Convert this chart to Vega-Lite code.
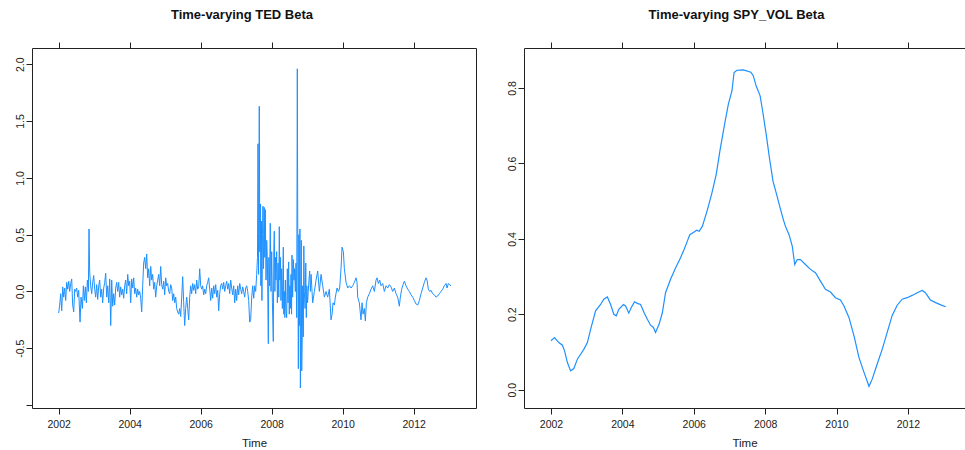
{
 "$schema": "https://vega.github.io/schema/vega-lite/v6.json",
 "padding": {"left": 14, "top": 8, "right": 0, "bottom": 0},
 "bounds": "flush",
 "spacing": 48,
 "background": "white",
 "datasets": {
  "ted": [
{"t":2002.000,"v":-0.19},{"t":2002.028,"v":-0.12},{"t":2002.056,"v":-0.02},{"t":2002.085,"v":-0.17},{"t":2002.113,"v":0.04},{"t":2002.141,"v":-0.05},{"t":2002.169,"v":0.03},{"t":2002.197,"v":-0.08},{"t":2002.225,"v":0.08},{"t":2002.254,"v":0.02},{"t":2002.282,"v":0.09},{"t":2002.310,"v":0.0},{"t":2002.338,"v":0.07},{"t":2002.366,"v":0.11},{"t":2002.394,"v":-0.12},{"t":2002.423,"v":-0.18},{"t":2002.451,"v":0.02},{"t":2002.479,"v":0.0},{"t":2002.507,"v":0.03},{"t":2002.535,"v":-0.05},{"t":2002.563,"v":0.01},{"t":2002.601,"v":-0.27},{"t":2002.629,"v":-0.05},{"t":2002.667,"v":-0.15},{"t":2002.695,"v":0.05},{"t":2002.723,"v":-0.08},{"t":2002.751,"v":0.04},{"t":2002.779,"v":-0.1},{"t":2002.808,"v":0.1},{"t":2002.836,"v":0.0},{"t":2002.854,"v":0.55},{"t":2002.873,"v":0.17},{"t":2002.901,"v":0.05},{"t":2002.930,"v":-0.02},{"t":2002.958,"v":0.08},{"t":2002.986,"v":0.14},
{"t":2003.014,"v":0.02},{"t":2003.042,"v":-0.05},{"t":2003.070,"v":0.06},{"t":2003.099,"v":-0.07},{"t":2003.127,"v":0.05},{"t":2003.155,"v":0.1},{"t":2003.183,"v":-0.05},{"t":2003.211,"v":0.02},{"t":2003.239,"v":-0.1},{"t":2003.268,"v":0.03},{"t":2003.296,"v":0.08},{"t":2003.324,"v":0.16},{"t":2003.352,"v":-0.05},{"t":2003.380,"v":0.05},{"t":2003.408,"v":-0.1},{"t":2003.437,"v":0.11},{"t":2003.465,"v":-0.3},{"t":2003.493,"v":0.1},{"t":2003.521,"v":-0.13},{"t":2003.549,"v":-0.02},{"t":2003.577,"v":-0.12},{"t":2003.606,"v":0.03},{"t":2003.634,"v":0.08},{"t":2003.662,"v":0.0},{"t":2003.690,"v":0.08},{"t":2003.718,"v":-0.05},{"t":2003.746,"v":0.04},{"t":2003.775,"v":-0.03},{"t":2003.803,"v":0.02},{"t":2003.831,"v":-0.06},{"t":2003.859,"v":0.05},{"t":2003.887,"v":0.1},{"t":2003.915,"v":-0.02},{"t":2003.944,"v":0.15},{"t":2003.972,"v":0.05},
{"t":2004.000,"v":0.09},{"t":2004.028,"v":-0.1},{"t":2004.056,"v":0.11},{"t":2004.085,"v":0.03},{"t":2004.113,"v":0.12},{"t":2004.141,"v":-0.02},{"t":2004.169,"v":0.03},{"t":2004.197,"v":-0.05},{"t":2004.225,"v":0.02},{"t":2004.254,"v":-0.03},{"t":2004.282,"v":0.0},{"t":2004.310,"v":-0.06},{"t":2004.338,"v":-0.18},{"t":2004.366,"v":0.05},{"t":2004.394,"v":0.25},{"t":2004.423,"v":0.3},{"t":2004.451,"v":0.2},{"t":2004.479,"v":0.33},{"t":2004.507,"v":0.12},{"t":2004.535,"v":0.2},{"t":2004.563,"v":0.05},{"t":2004.592,"v":0.22},{"t":2004.620,"v":0.1},{"t":2004.648,"v":0.15},{"t":2004.676,"v":0.02},{"t":2004.704,"v":0.08},{"t":2004.732,"v":-0.05},{"t":2004.761,"v":0.05},{"t":2004.789,"v":0.1},{"t":2004.817,"v":0.15},{"t":2004.845,"v":0.05},{"t":2004.873,"v":0.22},{"t":2004.901,"v":0.06},{"t":2004.930,"v":0.02},{"t":2004.958,"v":0.09},{"t":2004.986,"v":-0.03},
{"t":2005.014,"v":0.12},{"t":2005.042,"v":0.05},{"t":2005.070,"v":0.07},{"t":2005.099,"v":0.0},{"t":2005.127,"v":-0.02},{"t":2005.155,"v":0.06},{"t":2005.183,"v":0.03},{"t":2005.211,"v":-0.08},{"t":2005.239,"v":-0.02},{"t":2005.268,"v":-0.1},{"t":2005.296,"v":-0.05},{"t":2005.324,"v":-0.15},{"t":2005.352,"v":-0.18},{"t":2005.380,"v":-0.2},{"t":2005.408,"v":-0.15},{"t":2005.437,"v":-0.22},{"t":2005.465,"v":-0.05},{"t":2005.493,"v":0.13},{"t":2005.521,"v":-0.1},{"t":2005.549,"v":-0.3},{"t":2005.577,"v":-0.15},{"t":2005.606,"v":-0.05},{"t":2005.634,"v":-0.15},{"t":2005.662,"v":-0.25},{"t":2005.690,"v":-0.05},{"t":2005.718,"v":0.05},{"t":2005.746,"v":-0.02},{"t":2005.775,"v":0.07},{"t":2005.803,"v":0.01},{"t":2005.831,"v":0.06},{"t":2005.859,"v":-0.02},{"t":2005.887,"v":0.1},{"t":2005.915,"v":0.02},{"t":2005.944,"v":0.04},{"t":2005.972,"v":0.2},
{"t":2006.000,"v":0.05},{"t":2006.028,"v":0.02},{"t":2006.056,"v":0.05},{"t":2006.085,"v":-0.03},{"t":2006.113,"v":0.02},{"t":2006.141,"v":-0.02},{"t":2006.169,"v":0.05},{"t":2006.197,"v":0.08},{"t":2006.225,"v":0.12},{"t":2006.254,"v":0.02},{"t":2006.282,"v":-0.08},{"t":2006.310,"v":0.03},{"t":2006.338,"v":-0.06},{"t":2006.366,"v":0.05},{"t":2006.394,"v":-0.02},{"t":2006.423,"v":0.06},{"t":2006.451,"v":-0.05},{"t":2006.479,"v":0.01},{"t":2006.507,"v":-0.17},{"t":2006.535,"v":-0.02},{"t":2006.563,"v":0.05},{"t":2006.592,"v":0.07},{"t":2006.620,"v":0.02},{"t":2006.648,"v":0.08},{"t":2006.676,"v":0.0},{"t":2006.704,"v":0.05},{"t":2006.732,"v":0.09},{"t":2006.761,"v":0.02},{"t":2006.789,"v":0.07},{"t":2006.817,"v":-0.02},{"t":2006.845,"v":0.1},{"t":2006.873,"v":0.03},{"t":2006.901,"v":-0.03},{"t":2006.930,"v":0.05},{"t":2006.958,"v":-0.1},{"t":2006.986,"v":0.02},
{"t":2007.014,"v":-0.08},{"t":2007.042,"v":0.05},{"t":2007.070,"v":-0.03},{"t":2007.099,"v":0.07},{"t":2007.127,"v":0.02},{"t":2007.155,"v":-0.02},{"t":2007.183,"v":0.04},{"t":2007.211,"v":0.0},{"t":2007.239,"v":-0.05},{"t":2007.268,"v":0.03},{"t":2007.296,"v":0.05},{"t":2007.324,"v":0.0},{"t":2007.352,"v":-0.08},{"t":2007.380,"v":-0.27},{"t":2007.408,"v":-0.25},{"t":2007.437,"v":-0.05},{"t":2007.465,"v":0.05},{"t":2007.493,"v":-0.06},{"t":2007.521,"v":0.05},{"t":2007.549,"v":0.0},{"t":2007.577,"v":0.15},
{"t":2007.600,"v":0.30},{"t":2007.615,"v":1.30},{"t":2007.630,"v":0.15},{"t":2007.650,"v":1.63},{"t":2007.665,"v":0.35},{"t":2007.680,"v":0.77},{"t":2007.695,"v":0.05},{"t":2007.710,"v":0.62},{"t":2007.725,"v":-0.08},{"t":2007.740,"v":0.50},{"t":2007.755,"v":0.75},{"t":2007.770,"v":0.20},{"t":2007.790,"v":0.74},{"t":2007.805,"v":0.30},{"t":2007.820,"v":0.72},{"t":2007.840,"v":0.10},{"t":2007.860,"v":0.45},{"t":2007.880,"v":0.25},{"t":2007.905,"v":-0.46},{"t":2007.920,"v":0.30},{"t":2007.940,"v":0.05},{"t":2007.960,"v":0.60},{"t":2007.980,"v":0.00},
{"t":2008.000,"v":0.35},{"t":2008.020,"v":-0.10},{"t":2008.045,"v":-0.44},{"t":2008.060,"v":0.35},{"t":2008.073,"v":0.53},{"t":2008.090,"v":0.00},{"t":2008.105,"v":0.30},{"t":2008.120,"v":0.10},{"t":2008.140,"v":0.35},{"t":2008.160,"v":-0.10},{"t":2008.180,"v":0.25},{"t":2008.200,"v":-0.05},{"t":2008.214,"v":0.57},{"t":2008.230,"v":0.10},{"t":2008.245,"v":0.30},{"t":2008.260,"v":-0.08},{"t":2008.280,"v":0.20},{"t":2008.300,"v":-0.15},{"t":2008.315,"v":0.15},{"t":2008.327,"v":0.39},{"t":2008.340,"v":-0.20},{"t":2008.355,"v":0.00},{"t":2008.370,"v":-0.23},{"t":2008.385,"v":0.10},{"t":2008.400,"v":-0.15},{"t":2008.422,"v":-0.23},{"t":2008.440,"v":0.20},{"t":2008.460,"v":-0.10},{"t":2008.478,"v":0.26},{"t":2008.495,"v":-0.20},{"t":2008.510,"v":0.05},{"t":2008.525,"v":-0.15},{"t":2008.545,"v":0.15},{"t":2008.560,"v":-0.20},{"t":2008.572,"v":0.32},{"t":2008.590,"v":-0.05},{"t":2008.610,"v":0.28},{"t":2008.630,"v":0.10},{"t":2008.645,"v":0.20},{"t":2008.666,"v":0.00},{"t":2008.685,"v":0.25},{"t":2008.704,"v":-0.23},{"t":2008.722,"v":1.96},{"t":2008.735,"v":0.40},{"t":2008.751,"v":-0.68},{"t":2008.765,"v":0.50},{"t":2008.780,"v":-0.30},{"t":2008.795,"v":0.55},{"t":2008.808,"v":-0.85},{"t":2008.820,"v":-0.20},{"t":2008.833,"v":0.45},{"t":2008.845,"v":-0.70},{"t":2008.860,"v":-0.40},{"t":2008.873,"v":0.05},{"t":2008.890,"v":-0.40},{"t":2008.905,"v":0.40},{"t":2008.920,"v":0.00},{"t":2008.940,"v":-0.15},{"t":2008.960,"v":0.25},{"t":2008.975,"v":-0.23},{"t":2008.990,"v":0.05},
{"t":2009.010,"v":-0.10},{"t":2009.030,"v":0.00},{"t":2009.050,"v":0.10},{"t":2009.070,"v":0.18},{"t":2009.090,"v":0.0},{"t":2009.110,"v":0.15},{"t":2009.127,"v":0.05},{"t":2009.155,"v":-0.1},{"t":2009.202,"v":0.0},{"t":2009.249,"v":0.1},{"t":2009.296,"v":0.18},{"t":2009.343,"v":0.0},{"t":2009.390,"v":0.15},{"t":2009.437,"v":0.05},{"t":2009.484,"v":-0.05},{"t":2009.531,"v":0.0},{"t":2009.577,"v":-0.05},{"t":2009.624,"v":0.02},{"t":2009.671,"v":-0.25},{"t":2009.700,"v":-0.2},{"t":2009.728,"v":-0.1},{"t":2009.765,"v":-0.12},{"t":2009.793,"v":-0.05},{"t":2009.840,"v":0.03},{"t":2009.878,"v":0.0},{"t":2009.915,"v":0.03},{"t":2009.953,"v":0.2},{"t":2009.981,"v":0.39},
{"t":2010.019,"v":0.35},{"t":2010.047,"v":0.2},{"t":2010.094,"v":0.08},{"t":2010.141,"v":0.03},{"t":2010.188,"v":0.05},{"t":2010.235,"v":0.03},{"t":2010.282,"v":0.05},{"t":2010.329,"v":0.08},{"t":2010.376,"v":0.12},{"t":2010.404,"v":0.08},{"t":2010.423,"v":-0.05},{"t":2010.469,"v":-0.1},{"t":2010.516,"v":-0.25},{"t":2010.545,"v":-0.1},{"t":2010.573,"v":-0.2},{"t":2010.610,"v":-0.15},{"t":2010.638,"v":-0.26},{"t":2010.667,"v":-0.1},{"t":2010.704,"v":-0.05},{"t":2010.751,"v":-0.02},{"t":2010.798,"v":0.02},{"t":2010.845,"v":0.05},{"t":2010.892,"v":0.0},{"t":2010.939,"v":0.1},{"t":2010.967,"v":0.12},
{"t":2011.005,"v":0.07},{"t":2011.042,"v":0.1},{"t":2011.080,"v":0.05},{"t":2011.127,"v":0.07},{"t":2011.174,"v":0.0},{"t":2011.221,"v":0.05},{"t":2011.268,"v":0.03},{"t":2011.315,"v":0.06},{"t":2011.362,"v":0.04},{"t":2011.408,"v":0.0},{"t":2011.455,"v":0.03},{"t":2011.502,"v":-0.02},{"t":2011.549,"v":-0.05},{"t":2011.596,"v":-0.13},{"t":2011.624,"v":-0.05},{"t":2011.662,"v":0.02},{"t":2011.700,"v":0.06},{"t":2011.737,"v":0.09},{"t":2011.784,"v":0.05},{"t":2011.831,"v":0.02},{"t":2011.878,"v":0.0},{"t":2011.925,"v":-0.03},{"t":2011.972,"v":-0.05},
{"t":2012.019,"v":-0.08},{"t":2012.066,"v":-0.11},{"t":2012.113,"v":-0.12},{"t":2012.160,"v":-0.08},{"t":2012.207,"v":-0.02},{"t":2012.254,"v":0.03},{"t":2012.300,"v":0.08},{"t":2012.347,"v":0.12},{"t":2012.376,"v":0.1},{"t":2012.413,"v":0.02},{"t":2012.451,"v":0.0},{"t":2012.488,"v":0.01},{"t":2012.535,"v":-0.02},{"t":2012.582,"v":-0.03},{"t":2012.629,"v":-0.05},{"t":2012.676,"v":-0.04},{"t":2012.723,"v":-0.02},{"t":2012.770,"v":0.0},{"t":2012.817,"v":0.02},{"t":2012.864,"v":0.05},{"t":2012.911,"v":0.07},{"t":2012.939,"v":0.03},{"t":2012.977,"v":0.07},{"t":2013.005,"v":0.06},{"t":2013.052,"v":0.05}
  ],
  "spy": [
{"t":2002.00,"v":0.130},{"t":2002.10,"v":0.138},{"t":2002.22,"v":0.125},{"t":2002.32,"v":0.118},{"t":2002.38,"v":0.103},{"t":2002.46,"v":0.072},{"t":2002.55,"v":0.050},{"t":2002.64,"v":0.056},{"t":2002.74,"v":0.081},{"t":2002.83,"v":0.094},{"t":2002.92,"v":0.107},{"t":2003.02,"v":0.125},{"t":2003.11,"v":0.160},{"t":2003.25,"v":0.209},{"t":2003.39,"v":0.226},{"t":2003.48,"v":0.240},{"t":2003.58,"v":0.246},{"t":2003.67,"v":0.226},{"t":2003.76,"v":0.200},{"t":2003.83,"v":0.196},{"t":2003.90,"v":0.213},{"t":2004.03,"v":0.226},{"t":2004.09,"v":0.222},{"t":2004.18,"v":0.203},{"t":2004.25,"v":0.218},{"t":2004.34,"v":0.233},{"t":2004.42,"v":0.229},{"t":2004.51,"v":0.226},{"t":2004.61,"v":0.204},{"t":2004.70,"v":0.187},{"t":2004.79,"v":0.171},{"t":2004.87,"v":0.165},{"t":2004.93,"v":0.152},{"t":2005.03,"v":0.174},{"t":2005.12,"v":0.204},{"t":2005.21,"v":0.257},{"t":2005.35,"v":0.293},{"t":2005.49,"v":0.323},{"t":2005.63,"v":0.350},{"t":2005.73,"v":0.372},{"t":2005.82,"v":0.394},{"t":2005.89,"v":0.411},{"t":2006.01,"v":0.418},{"t":2006.08,"v":0.423},{"t":2006.15,"v":0.420},{"t":2006.24,"v":0.433},{"t":2006.37,"v":0.473},{"t":2006.51,"v":0.522},{"t":2006.63,"v":0.571},{"t":2006.74,"v":0.637},{"t":2006.88,"v":0.712},{"t":2006.97,"v":0.757},{"t":2007.07,"v":0.792},{"t":2007.13,"v":0.841},{"t":2007.21,"v":0.847},{"t":2007.39,"v":0.848},{"t":2007.60,"v":0.842},{"t":2007.67,"v":0.832},{"t":2007.75,"v":0.805},{"t":2007.86,"v":0.779},{"t":2007.93,"v":0.739},{"t":2008.03,"v":0.677},{"t":2008.12,"v":0.615},{"t":2008.22,"v":0.553},{"t":2008.31,"v":0.522},{"t":2008.42,"v":0.482},{"t":2008.51,"v":0.451},{"t":2008.57,"v":0.433},{"t":2008.67,"v":0.411},{"t":2008.76,"v":0.381},{"t":2008.83,"v":0.332},{"t":2008.90,"v":0.345},{"t":2008.99,"v":0.345},{"t":2009.13,"v":0.332},{"t":2009.27,"v":0.319},{"t":2009.41,"v":0.310},{"t":2009.55,"v":0.288},{"t":2009.69,"v":0.266},{"t":2009.83,"v":0.259},{"t":2009.97,"v":0.244},{"t":2010.11,"v":0.238},{"t":2010.21,"v":0.222},{"t":2010.35,"v":0.191},{"t":2010.49,"v":0.143},{"t":2010.63,"v":0.085},{"t":2010.77,"v":0.046},{"t":2010.91,"v":0.009},{"t":2011.00,"v":0.028},{"t":2011.14,"v":0.068},{"t":2011.28,"v":0.107},{"t":2011.42,"v":0.152},{"t":2011.56,"v":0.197},{"t":2011.70,"v":0.224},{"t":2011.84,"v":0.240},{"t":2011.98,"v":0.244},{"t":2012.12,"v":0.250},{"t":2012.26,"v":0.257},{"t":2012.40,"v":0.263},{"t":2012.49,"v":0.257},{"t":2012.63,"v":0.238},{"t":2012.78,"v":0.231},{"t":2012.92,"v":0.225},{"t":2013.06,"v":0.220}
  ]
 },
 "config": {
  "font": "Liberation Sans",
  "view": {"stroke": "#222", "strokeWidth": 1},
  "axis": {"domain": false, "grid": false, "tickColor": "#222", "tickSize": 6, "labelColor": "#222", "labelFont": "Liberation Sans", "labelFontSize": 10.5, "titleFont": "Liberation Sans", "titleFontWeight": "normal", "titleColor": "#222", "titleFontSize": 11.5},
  "title": {"font": "Liberation Sans", "fontSize": 13, "fontWeight": "bold", "color": "#111", "offset": 20, "anchor": "middle"}
 },
 "hconcat": [
  {
   "width": 444, "height": 360,
   "title": {"text": "Time-varying TED Beta", "dx": -12},
   "data": {"name": "ted"},
   "layer": [
    {"mark": {"type": "line", "color": "#1E90FF", "strokeWidth": 1},
     "encoding": {
      "x": {"field": "t", "type": "quantitative", "scale": {"domain": [2001.248, 2013.755], "nice": false, "zero": false},
            "axis": {"orient": "bottom", "values": [2002, 2004, 2006, 2008, 2010, 2012], "format": "d", "title": "Time", "labelPadding": 5, "titlePadding": 8, "labelFlush": false, "labelOverlap": false}},
      "y": {"field": "v", "type": "quantitative", "scale": {"domain": [-1.026, 2.143], "nice": false, "zero": false},
            "axis": {"values": [-1, -0.5, 0, 0.5, 1, 1.5, 2], "format": ".1f", "labelExpr": "datum.value == -1 ? '' : replace(datum.label, '−', '-')", "labelAngle": -90, "labelPadding": 1, "title": null, "labelFlush": false, "labelOverlap": false}}
     }},
    {"mark": {"type": "point", "opacity": 0},
     "encoding": {
      "x": {"field": "t", "type": "quantitative", "axis": {"orient": "top", "values": [2002, 2004, 2006, 2008, 2010, 2012], "labels": false, "title": null}}
     }}
   ],
   "resolve": {"axis": {"x": "independent"}}
  },
  {
   "width": 441, "height": 360,
   "title": {"text": "Time-varying SPY_VOL Beta", "dx": -8},
   "data": {"name": "spy"},
   "layer": [
    {"mark": {"type": "line", "color": "#1E90FF", "strokeWidth": 1.2},
     "encoding": {
      "x": {"field": "t", "type": "quantitative", "scale": {"domain": [2001.244, 2013.6], "nice": false, "zero": false},
            "axis": {"orient": "bottom", "values": [2002, 2004, 2006, 2008, 2010, 2012], "format": "d", "title": "Time", "labelPadding": 5, "titlePadding": 8, "labelFlush": false, "labelOverlap": false}},
      "y": {"field": "v", "type": "quantitative", "scale": {"domain": [-0.0485, 0.906], "nice": false, "zero": false},
            "axis": {"values": [0, 0.2, 0.4, 0.6, 0.8], "format": ".1f", "labelAngle": -90, "labelPadding": 1, "title": null, "labelFlush": false, "labelOverlap": false}}
     }},
    {"mark": {"type": "point", "opacity": 0},
     "encoding": {
      "x": {"field": "t", "type": "quantitative", "axis": {"orient": "top", "values": [2002, 2004, 2006, 2008, 2010, 2012], "labels": false, "title": null}}
     }}
   ],
   "resolve": {"axis": {"x": "independent"}}
  }
 ]
}
